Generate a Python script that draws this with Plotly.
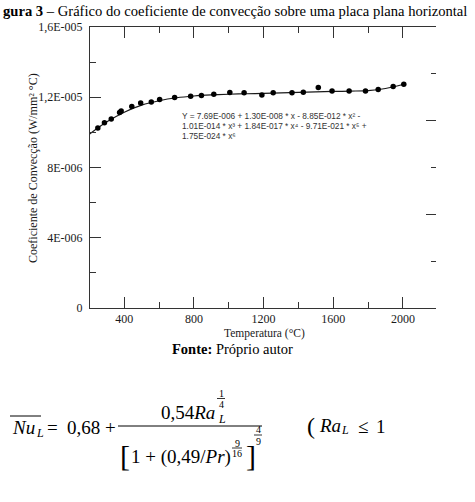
import plotly.graph_objects as go

# ---------------- data ----------------
temp_pts = [200, 248, 286, 325, 373, 382, 443, 494, 555, 603, 689, 781, 843, 914,
            1006, 1088, 1190, 1255, 1363, 1428, 1514, 1593, 1691, 1785, 1858, 1944, 2005]
coef_pts = [9.98e-6, 10.25e-6, 10.55e-6, 10.76e-6, 11.13e-6, 11.22e-6, 11.47e-6, 11.67e-6,
            11.73e-6, 11.87e-6, 11.98e-6, 12.06e-6, 12.10e-6, 12.17e-6, 12.27e-6, 12.25e-6,
            12.13e-6, 12.25e-6, 12.25e-6, 12.29e-6, 12.55e-6, 12.36e-6, 12.36e-6, 12.36e-6,
            12.44e-6, 12.61e-6, 12.74e-6]

# fitted curve as it appears in the picture
fit_x = [200, 300, 400, 500, 600, 700, 800, 900, 1000, 1100, 1200, 1300, 1400, 1500,
         1600, 1700, 1800, 1900, 2005]
fit_y = [9.90e-6, 10.60e-6, 11.15e-6, 11.55e-6, 11.80e-6, 11.97e-6, 12.07e-6, 12.13e-6,
         12.17e-6, 12.20e-6, 12.22e-6, 12.25e-6, 12.28e-6, 12.31e-6, 12.33e-6, 12.35e-6,
         12.38e-6, 12.50e-6, 12.74e-6]

x_ticks = [400, 800, 1200, 1600, 2000]
x_minor = [600, 1000, 1400, 1800]
y_ticks = [0, 4e-6, 8e-6, 1.2e-5, 1.6e-5]
y_ticktext = ["0", "4E-006", "8E-006", "1,2E-005", "1,6E-005"]
y_minor = [2e-6, 6e-6, 1e-5, 1.4e-5]

eq_lines = ["Y = 7.69E-006 + 1.30E-008 * x - 8.85E-012 * x² -",
            "1.01E-014 * x³ + 1.84E-017 * x⁴ - 9.71E-021 * x⁵ +",
            "1.75E-024 * x⁶"]

# ---------------- layout helpers (pixel -> paper) ----------------
L, R, T, B = 90, 436, 27, 308
W, H = 475, 502


def px(x):
    return (x - L) / (R - L)


def py(y):
    return (B - y) / (B - T)


SERIF = "Liberation Serif"
INK = "#1a1a1a"

fig = go.Figure()
fig.add_trace(go.Scatter(x=fit_x, y=fit_y, mode="lines", line=dict(color=INK, width=1.2, shape="spline"),
                         showlegend=False, hoverinfo="skip"))
fig.add_trace(go.Scatter(x=temp_pts, y=coef_pts, mode="markers", cliponaxis=False,
                         marker=dict(color="black", size=5.5), showlegend=False))
fig.add_trace(go.Scatter(x=[None], y=[None], yaxis="y2", showlegend=False, hoverinfo="skip"))

fig.update_layout(
    width=W, height=H,
    margin=dict(l=L, r=W - R, t=T, b=H - B),
    paper_bgcolor="white", plot_bgcolor="white",
    font=dict(family=SERIF, size=12, color=INK),
    xaxis=dict(range=[203, 2190], showgrid=False, zeroline=False, showline=True, linecolor="#333",
               linewidth=1, mirror="ticks", ticks="inside", ticklen=11, tickcolor="#333",
               tickvals=x_ticks, ticktext=[str(v) for v in x_ticks],
               tickfont=dict(family=SERIF, size=12, color=INK),
               minor=dict(tickvals=x_minor, ticks="inside", ticklen=6, tickcolor="#333")),
    yaxis=dict(range=[0, 1.6e-5], showgrid=False, zeroline=False, showline=True, linecolor="#333",
               linewidth=1, ticks="inside", ticklen=11, tickcolor="#333",
               tickvals=y_ticks, ticktext=y_ticktext, ticklabelstandoff=4,
               tickfont=dict(family=SERIF, size=12, color=INK),
               minor=dict(tickvals=y_minor, ticks="inside", ticklen=6, tickcolor="#333")),
    yaxis2=dict(overlaying="y", side="right", range=[0, 6], showgrid=False, zeroline=False,
                showline=False, ticks="inside", dtick=2, ticklen=10, tickcolor="#333",
                showticklabels=False,
                minor=dict(dtick=1, ticks="inside", ticklen=5, tickcolor="#333")),
)

ann = []


def txt(x, y, s, font, anchor="left", angle=0):
    ann.append(dict(x=px(x), y=py(y), xref="paper", yref="paper", xanchor=anchor, yanchor="middle",
                    text=s, showarrow=False, font=font, textangle=angle))


# top caption (as visible on the page)
txt(1, 11, "<b>gura 3</b> – Gráfico do coeficiente de convecção sobre uma placa plana horizontal",
    dict(family=SERIF, size=14.6, color="black"))
# axis titles
txt(33, 168, "Coeficiente de Convecção (W/mm² °C)", dict(family=SERIF, size=12, color=INK), "center", -90)
txt(264, 333, "Temperatura (°C)", dict(family=SERIF, size=11.5, color=INK), "center")
# fit equation
for i, line in enumerate(eq_lines):
    txt(180, 116 + 10 * i, line, dict(family="Liberation Sans", size=8.3, color="#333"))
# source
txt(232, 349, "<b>Fonte:</b> Próprio autor", dict(family=SERIF, size=14.5, color="black"), "center")

# formula below the figure
EQ = dict(family=SERIF, size=19, color="black")
SB = dict(family=SERIF, size=12, color="black")
SM = dict(family=SERIF, size=10, color="black")
BR = dict(family=SERIF, size=30, color="black")

txt(10, 427, "<i>Nu</i>", EQ)
txt(34, 433, "<i>L</i>", SB)
txt(52, 427, "=", EQ, "center")
txt(83, 427, "0,68", EQ, "center")
txt(110, 427, "+", EQ, "center")
txt(159, 412, "0,54<i>Ra</i>", EQ)
txt(216, 419, "<i>L</i>", SB)
txt(221, 393, "1", SM, "center")
txt(221, 404, "4", SM, "center")
txt(118, 455, "[", BR)
txt(129, 457, "1 + (0,49/<i>Pr</i>)", EQ)
txt(237, 443, "9", SM, "center")
txt(237, 453, "16", SM, "center")
txt(244, 455, "]", BR)
txt(258, 429, "4", SM, "center")
txt(258, 441, "9", SM, "center")
txt(305, 426, "(", dict(family=SERIF, size=24, color="black"))
txt(317, 425, "<i>Ra</i>", EQ)
txt(339, 430, "<i>L</i>", SB)
txt(363, 426, "≤", EQ, "center")
txt(374, 426, "1", EQ)

fig.update_layout(annotations=ann)


def hline(x0, x1, y, w=1.0):
    return dict(type="line", xref="paper", yref="paper", x0=px(x0), x1=px(x1), y0=py(y), y1=py(y),
                line=dict(color="black", width=w))


fig.update_layout(shapes=[
    hline(10, 41, 416),
    hline(118, 262, 426),
    hline(217, 225, 398.5, 0.8),
    hline(232, 242, 448, 0.8),
    hline(254, 262, 435, 0.8),
])

fig.write_html("out.html")
